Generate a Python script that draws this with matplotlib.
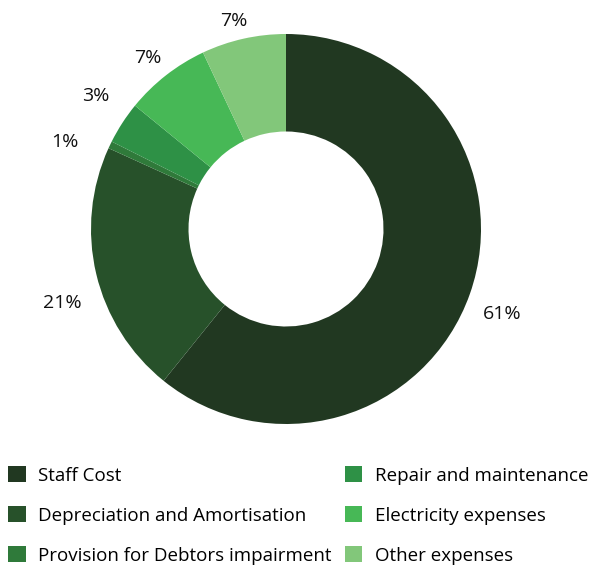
import matplotlib
matplotlib.use("Agg")
import numpy as np
import matplotlib.pyplot as plt
from matplotlib.patches import Patch

plt.rcParams['font.family'] = ['Open Sans', 'DejaVu Sans']

categories = ["Staff Cost", "Depreciation and Amortisation", "Provision for Debtors impairment",
              "Repair and maintenance", "Electricity expenses", "Other expenses"]
values = [60.8, 21.0, 0.6, 3.5, 7.1, 7.0]
labels = ["61%", "21%", "1%", "3%", "7%", "7%"]
colors = ["#213821", "#27512a", "#2f7a3a", "#2e9146", "#47b856", "#82c77a"]
# radial distance of each percentage label (fraction of outer radius) – styling only
label_dist = [1.19, 1.21, 1.22, 1.19, 1.13, 1.10]
label_shift = [-2, 5, 4, -2, 1, 1.5]  # small angular nudges in degrees (styling)

fig = plt.figure(figsize=(5.9, 5.67), dpi=100)
ax = fig.add_axes([91/590, 143/567, 390/590, 390/567])
wedges, _ = ax.pie(values, colors=colors, startangle=90, counterclock=False,
                   radius=1, wedgeprops=dict(width=0.5, linewidth=0))
for w, lab, d, s in zip(wedges, labels, label_dist, label_shift):
    ang = np.deg2rad((w.theta1 + w.theta2) / 2 + s)
    ax.text(d * np.cos(ang), d * np.sin(ang), lab, ha='center', va='center',
            fontsize=14, color="#111111")
ax.set_xlim(-1, 1)
ax.set_ylim(-1, 1)
ax.set_aspect('equal')
ax.axis('off')

handles = [Patch(facecolor=c, edgecolor='none') for c in colors]
fig.legend(handles, categories, ncol=2, loc='upper left', bbox_to_anchor=(8/590, 1 - 466/567),
           frameon=False, fontsize=13.5, handlelength=0.95, handleheight=0.95, handletextpad=0.65,
           labelspacing=1.15, columnspacing=0.7, borderpad=0, borderaxespad=0)

fig.savefig("out.png", dpi=100)
